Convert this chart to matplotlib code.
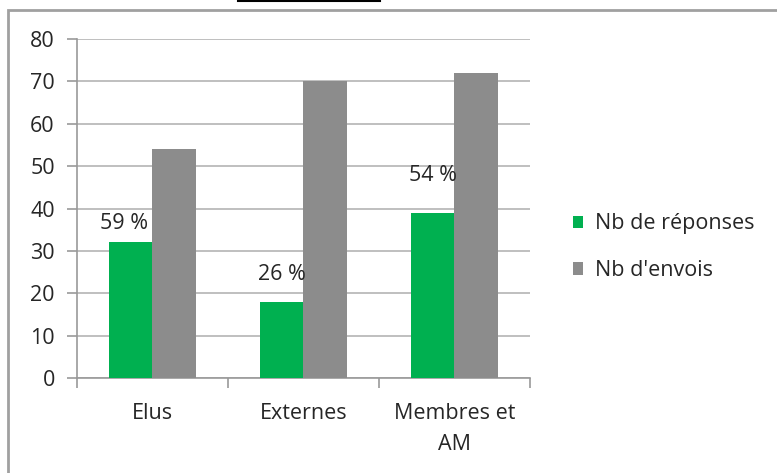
import matplotlib.pyplot as plt
import numpy as np
from matplotlib.patches import Rectangle
from matplotlib.lines import Line2D

categories = ['Elus', 'Externes', 'Membres et\nAM']
reponses = [32, 18, 39]
envois = [54, 70, 72]
pct_labels = ['59 %', '26 %', '54 %']

plt.rcParams['font.family'] = ['Open Sans', 'DejaVu Sans']
FS = 15.5

fig = plt.figure(figsize=(7.77, 4.73), dpi=100)
ax = fig.add_axes([0.0991, 0.2008, 0.583, 0.7167])

x = np.arange(len(categories))
w = 0.285
ax.bar(x - w / 2, reponses, w, color='#00b050', label='Nb de réponses', zorder=3)
ax.bar(x + w / 2, envois, w, color='#8c8c8c', label="Nb d'envois", zorder=3)

# percent labels above the green bars (placed by hand in the original)
offsets = [(-5, 13.5), (0, 19.5), (0, 26.5)]
for xi, v, lab, off in zip(x, reponses, pct_labels, offsets):
    ax.annotate(lab, (xi - w / 2, v), xytext=off, textcoords='offset points',
                ha='center', va='center', fontsize=FS, color='#262626', zorder=5)

ax.set_xlim(-0.5, len(categories) - 0.5)
ax.set_ylim(0, 80)
ax.set_yticks(range(0, 81, 10))
ax.yaxis.grid(True, color='#b4b4b4', linewidth=1.2, zorder=0)
ax.set_xticks(x)
ax.set_xticklabels(categories, fontsize=FS, color='#262626', linespacing=1.6)
ax.set_xticks(np.arange(-0.5, len(categories), 1), minor=True)
ax.tick_params(axis='x', which='major', length=0, pad=18)
ax.tick_params(axis='x', which='minor', length=7, color='#999999', width=1.2)
ax.tick_params(axis='y', length=7, color='#999999', width=1.2, pad=9,
               labelsize=FS, labelcolor='#262626')
for s in ['top', 'right']:
    ax.spines[s].set_visible(False)
for s in ['left', 'bottom']:
    ax.spines[s].set_color('#999999')
    ax.spines[s].set_linewidth(1.2)

leg = fig.legend(loc='upper left', bbox_to_anchor=(0.712, 0.59), frameon=False,
                 fontsize=FS, handlelength=0.5, handleheight=0.5,
                 handletextpad=0.55, labelspacing=1.2)
for t in leg.get_texts():
    t.set_color('#262626')

# outer frame of the chart object
fig.add_artist(Rectangle((8 / 777, -0.1), 1.2, 1.1 - 10 / 473, transform=fig.transFigure,
                         fill=False, edgecolor='#a0a0a0', linewidth=2))
# underline of the cut-off heading above the chart
fig.add_artist(Line2D([238 / 777, 380 / 777], [1 - 1.5 / 473] * 2, transform=fig.transFigure,
                      color='black', linewidth=1.5))

fig.savefig('out.png', dpi=100)
